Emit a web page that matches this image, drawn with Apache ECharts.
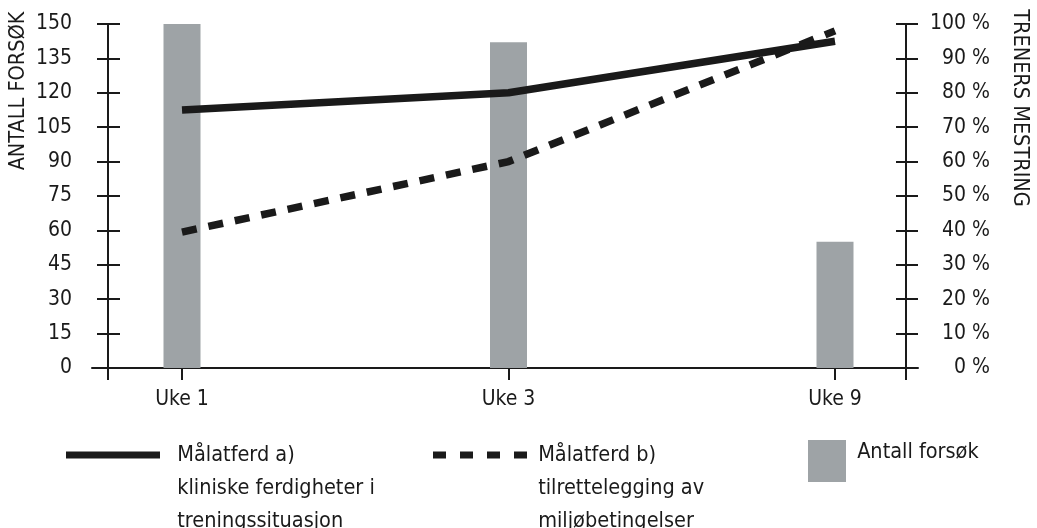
<!DOCTYPE html>
<html>
<head>
<meta charset="utf-8">
<script src="https://cdn.jsdelivr.net/npm/echarts@6/dist/echarts.min.js"></script>
<style>
  html, body { margin: 0; padding: 0; background: #fff; }
  #chart { width: 1037px; height: 528px; }
</style>
</head>
<body>
<div id="chart"></div>
<script>
const categories = ['Uke 1', 'Uke 3', 'Uke 9'];
const antallForsok = [150, 142, 55];
const malatferdA = [75, 80, 95];
const malatferdB = [39.5, 60, 98];
const leftTicks = { min: 0, max: 150, interval: 15 };
const rightTicks = { min: 0, max: 100, interval: 10 };
const nameA = 'Målatferd a)\nkliniske ferdigheter i\ntreningssituasjon';
const nameB = 'Målatferd b)\ntilrettelegging av\nmiljøbetingelser';
const nameBar = 'Antall forsøk';
const leftAxisName = 'ANTALL FORSØK';
const rightAxisName = 'TRENERS MESTRING';

const FONT = "'Liberation Sans Narrow', 'DejaVu Sans Condensed', sans-serif";
const INK = '#1a1a1a';
const GRAY = '#9ea3a6';
const TICK_FS = 21;
const LEG_FS = 21.5;

const chart = echarts.init(document.getElementById('chart'), null, { renderer: 'canvas' });

const yBase = {
  type: 'value', gridIndex: 0, splitLine: { show: false },
  axisLine: { show: true, lineStyle: { color: INK, width: 2 } },
};

function padLines(text, spaces) {
  const pad = ' '.repeat(spaces);
  return text.split('\n').map(l => pad + l).join('\n');
}

chart.setOption({
  animation: false,
  backgroundColor: '#fff',
  grid: [
    { left: 182, right: 202, top: 24, bottom: 160 },
    { left: 92, right: 119, top: 24, bottom: 160 }
  ],
  xAxis: [
    {
      type: 'category', gridIndex: 0, data: categories, boundaryGap: false,
      axisLine: { show: false },
      axisTick: { show: true, length: 12, lineStyle: { color: INK, width: 2 } },
      axisLabel: { fontFamily: FONT, fontSize: TICK_FS, color: INK, margin: 21 }
    },
    {
      type: 'value', gridIndex: 1, min: 0, max: 1,
      splitLine: { show: false },
      axisLine: { show: true, onZero: false, lineStyle: { color: INK, width: 2 } },
      axisTick: { show: true, length: 12, customValues: [0.01937, 0.98547], lineStyle: { color: INK, width: 2 } },
      axisLabel: { show: false }
    }
  ],
  yAxis: [
    Object.assign({}, yBase, {
      position: 'left', offset: 74, min: leftTicks.min, max: leftTicks.max, interval: leftTicks.interval,
      axisTick: { show: true, length: 11, lineStyle: { color: INK, width: 2 } },
      axisLabel: { fontFamily: FONT, fontSize: TICK_FS, color: INK, margin: 36 }
    }),
    Object.assign({}, yBase, {
      position: 'left', offset: 74, min: leftTicks.min, max: leftTicks.max, interval: leftTicks.interval,
      axisTick: { show: true, inside: true, length: 12, lineStyle: { color: INK, width: 2 } },
      axisLabel: { show: false }
    }),
    Object.assign({}, yBase, {
      position: 'right', offset: 71, min: rightTicks.min, max: rightTicks.max, interval: rightTicks.interval,
      axisTick: { show: true, length: 12, lineStyle: { color: INK, width: 2 } },
      axisLabel: { fontFamily: FONT, fontSize: TICK_FS, color: INK, margin: 84, align: 'right',
        formatter: v => v + ' %' }
    }),
    Object.assign({}, yBase, {
      position: 'right', offset: 71, min: rightTicks.min, max: rightTicks.max, interval: rightTicks.interval,
      axisTick: { show: true, inside: true, length: 10, lineStyle: { color: INK, width: 2 } },
      axisLabel: { show: false }
    }),
    { type: 'value', gridIndex: 1, show: false, min: 0, max: 1 }
  ],
  legend: [
    {
      left: 66, top: 372.5, padding: 0, data: [nameA], icon: 'rect', itemWidth: 94, itemHeight: 7,
      formatter: n => '\n\n' + padLines(n, 2),
      textStyle: { fontFamily: FONT, fontSize: LEG_FS, color: INK, lineHeight: 33 }
    },
    {
      left: 433, top: 372.5, padding: 0, data: [nameB],
      icon: 'path://M0 0h13v7H0z M27 0h13v7H27z M54 0h13v7H54z M81 0h13v7H81z',
      itemWidth: 94, itemHeight: 7,
      formatter: n => '\n\n' + padLines(n, 1),
      textStyle: { fontFamily: FONT, fontSize: LEG_FS, color: INK, lineHeight: 33 }
    },
    {
      left: 808, top: 440, padding: 0, data: [nameBar], icon: 'rect', itemWidth: 38, itemHeight: 42,
      formatter: n => padLines(n, 1) + '\n ',
      textStyle: { fontFamily: FONT, fontSize: LEG_FS, color: INK, lineHeight: 18 }
    }
  ],
  series: [
    {
      name: nameBar, type: 'bar', xAxisIndex: 0, yAxisIndex: 0, data: antallForsok,
      barWidth: 37, itemStyle: { color: GRAY }
    },
    {
      name: nameA, type: 'line', xAxisIndex: 0, yAxisIndex: 2, data: malatferdA,
      symbol: 'none', color: INK,
      lineStyle: { color: INK, width: 7.5, cap: 'butt', join: 'round' }
    },
    {
      name: nameB, type: 'line', xAxisIndex: 0, yAxisIndex: 2, data: malatferdB,
      symbol: 'none', color: INK,
      lineStyle: { color: INK, width: 7.5, type: [15, 12], cap: 'butt', join: 'miter' }
    }
  ],
  graphic: [
    { type: 'text', x: 18, y: 91, rotation: Math.PI / 2,
      style: { text: leftAxisName, font: '21.5px ' + FONT, fill: INK, align: 'center', verticalAlign: 'middle' } },
    { type: 'text', x: 1020, y: 108, rotation: -Math.PI / 2,
      style: { text: rightAxisName, font: '21.5px ' + FONT, fill: INK, align: 'center', verticalAlign: 'middle' } }
  ]
});
</script>
</body>
</html>
